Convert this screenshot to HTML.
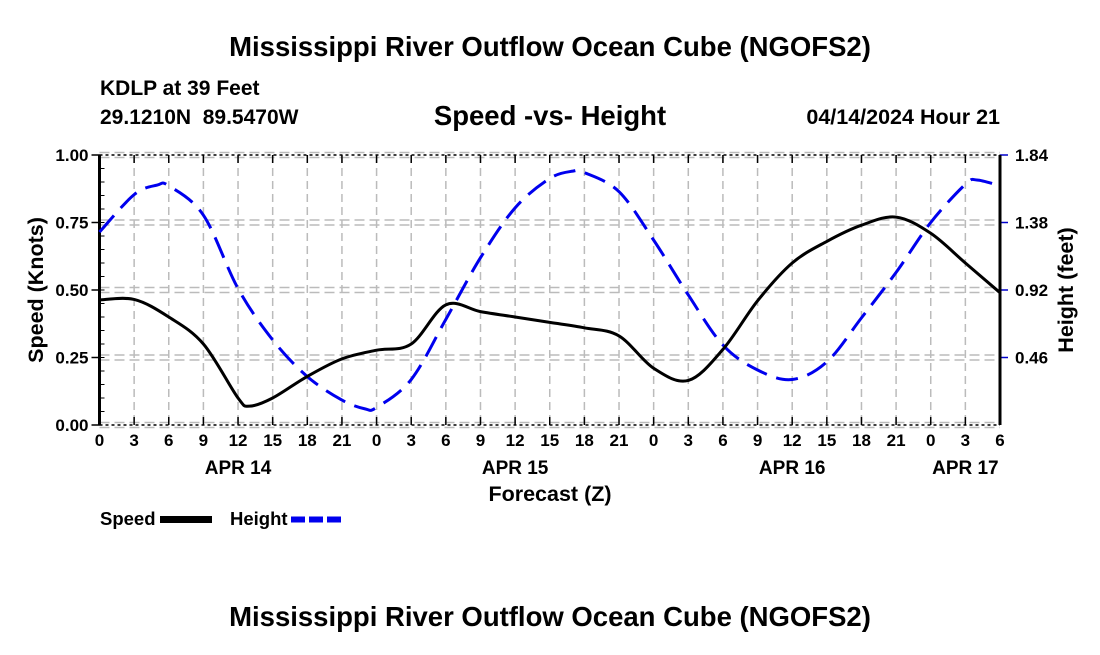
<!DOCTYPE html>
<html><head><meta charset="utf-8"><style>
body{margin:0;background:#fff;width:1100px;height:650px;overflow:hidden;font-family:"Liberation Sans",Arial,sans-serif}
</style></head><body>
<svg id="c" width="1100" height="650" xmlns="http://www.w3.org/2000/svg" font-family="Liberation Sans, Arial, sans-serif" font-weight="bold">
<text x="550" y="56" font-size="27.5" text-anchor="middle">Mississippi River Outflow Ocean Cube (NGOFS2)</text>
<text x="100" y="95" font-size="21">KDLP at 39 Feet</text>
<text x="100" y="124" font-size="21" xml:space="preserve">29.1210N  89.5470W</text>
<text x="550" y="125" font-size="27.5" text-anchor="middle">Speed -vs- Height</text>
<text x="1000" y="124" font-size="21.5" text-anchor="end">04/14/2024 Hour 21</text>
<g id="grid"></g><g id="axes"></g><g id="series"></g>
<text x="550" y="501" font-size="21.5" text-anchor="middle">Forecast (Z)</text>
<text transform="translate(43,290) rotate(-90)" font-size="21.5" text-anchor="middle">Speed (Knots)</text>
<text transform="translate(1073,290) rotate(-90)" font-size="21.5" text-anchor="middle">Height (feet)</text>
<g><text x="100" y="525" font-size="18.5">Speed</text><rect x="160" y="516" width="52" height="7" fill="#000"/></g>
<g><text x="230" y="525" font-size="18.5">Height</text><line x1="291" y1="519.5" x2="342" y2="519.5" stroke="#0000ee" stroke-width="6" stroke-dasharray="14,4"/></g>
<text x="550" y="626" font-size="27.5" text-anchor="middle">Mississippi River Outflow Ocean Cube (NGOFS2)</text>
</svg>
<script>
const hours=[0,3,6,9,12,13,15,18,21,24,27,30,33,36,39,42,45,48,51,54,57,60,63,66,69,72,75,78];
const speedVals=[0.463,0.465,0.40,0.30,0.10,0.07,0.10,0.18,0.245,0.277,0.30,0.445,0.42,0.40,0.38,0.36,0.33,0.21,0.165,0.28,0.46,0.60,0.68,0.74,0.77,0.71,0.60,0.49];
const heightHours=[0,3,5,6,9,12,15,18,21,23,24,27,30,33,36,39,41,42,45,48,51,54,57,60,63,66,69,72,75,76,78];
const heightVals=[1.315,1.57,1.635,1.63,1.43,0.93,0.58,0.33,0.17,0.11,0.12,0.31,0.72,1.14,1.48,1.68,1.73,1.72,1.59,1.26,0.886,0.545,0.375,0.31,0.43,0.73,1.04,1.38,1.64,1.67,1.63];
const xTickLabels=["0","3","6","9","12","15","18","21","0","3","6","9","12","15","18","21","0","3","6","9","12","15","18","21","0","3","6"];
const dayLabels=["APR 14","APR 15","APR 16","APR 17"];
const dayHours=[12,36,60,75];
const speedTicks=[0,0.25,0.5,0.75,1.0];
const heightTicks=[0.46,0.92,1.38,1.84];
const X0=99.5,X1=1000,Y0=425,Y1=155,HMAX=78,SMAX=1,FMAX=1.84;
const xs=h=>X0+(X1-X0)*h/HMAX, ys=v=>Y0-(Y0-Y1)*v/SMAX, yf=v=>Y0-(Y0-Y1)*v/FMAX;
const NS='http://www.w3.org/2000/svg';
function mk(p,t,a){const e=document.createElementNS(NS,t);for(const k in a)e.setAttribute(k,a[k]);p.appendChild(e);return e;}
const G=document.getElementById('grid'),A=document.getElementById('axes'),S=document.getElementById('series');
xTickLabels.forEach((l,i)=>{const x=xs(i*3);
 if(i>0&&i<xTickLabels.length-1){const g=mk(G,'line',{x1:x,x2:x,y1:Y1,y2:Y0,stroke:'#bbb','stroke-width':1.5,'stroke-dasharray':'8,5'});
 }
 mk(A,'line',{x1:x,x2:x,y1:Y0,y2:Y0-8,stroke:'#000','stroke-width':1.5});
 mk(A,'line',{x1:x,x2:x,y1:Y1,y2:Y1+8,stroke:'#000','stroke-width':1.5});
 const t=mk(A,'text',{x:x,y:Y0+21,'font-size':17,'text-anchor':'middle'});t.textContent=l;
 });
dayLabels.forEach((l,i)=>{const t=mk(A,'text',{x:xs(dayHours[i]),y:Y0+49,'font-size':19,'text-anchor':'middle'});t.textContent=l;
 });
speedTicks.forEach(v=>{const y=ys(v);
 [y-2.5,y+2.5].forEach(yy=>{const g=mk(G,'line',{x1:X0,x2:X1,y1:yy,y2:yy,stroke:'#bbb','stroke-width':1.5,'stroke-dasharray':'10,5'});
 });
 mk(A,'line',{x1:X0-8,x2:X0,y1:y,y2:y,stroke:'#000','stroke-width':1.5});
 const t=mk(A,'text',{x:X0-11,y:y+6,'font-size':17,'text-anchor':'end'});t.textContent=v.toFixed(2);
 });
for(let v=0.05;v<1;v+=0.05){mk(A,'line',{x1:X0,x2:X0+5,y1:ys(v),y2:ys(v),stroke:'#000','stroke-width':1});}
heightTicks.forEach(v=>{const y=yf(v);
 mk(A,'line',{x1:X1,x2:X1+8,y1:y,y2:y,stroke:'#0000cc','stroke-width':1.5});
 const t=mk(A,'text',{x:X1+15,y:y+6,'font-size':17});t.textContent=v.toFixed(2);
 });
mk(A,'line',{x1:X0,x2:X1,y1:Y1,y2:Y1,stroke:'#000','stroke-width':1.5,'stroke-dasharray':'3,3'});
mk(A,'line',{x1:X0,x2:X1,y1:Y0,y2:Y0,stroke:'#000','stroke-width':1.5,'stroke-dasharray':'3,3'});
mk(A,'line',{x1:X0,x2:X0,y1:Y1,y2:Y0,stroke:'#000','stroke-width':3});
mk(A,'line',{x1:X1,x2:X1,y1:Y1,y2:Y0,stroke:'#000','stroke-width':3});
function path(xv,yv){const p=xv.map((h,i)=>[h,yv[i]]);let d='M'+p[0][0]+','+p[0][1];
 for(let i=0;i<p.length-1;i++){const a=p[Math.max(i-1,0)],b=p[i],c=p[i+1],e=p[Math.min(i+2,p.length-1)];
 d+=` C${b[0]+(c[0]-a[0])/6},${b[1]+(c[1]-a[1])/6} ${c[0]-(e[0]-b[0])/6},${c[1]-(e[1]-b[1])/6} ${c[0]},${c[1]}`;}return d;}
const hp=mk(S,'path',{d:path(heightHours.map(xs),heightVals.map(yf)),fill:'none',stroke:'#0000ee','stroke-width':3,'stroke-dasharray':'22,10'});

const sp=mk(S,'path',{d:path(hours.map(xs),speedVals.map(ys)),fill:'none',stroke:'#000','stroke-width':3});

</script>
</body></html>
